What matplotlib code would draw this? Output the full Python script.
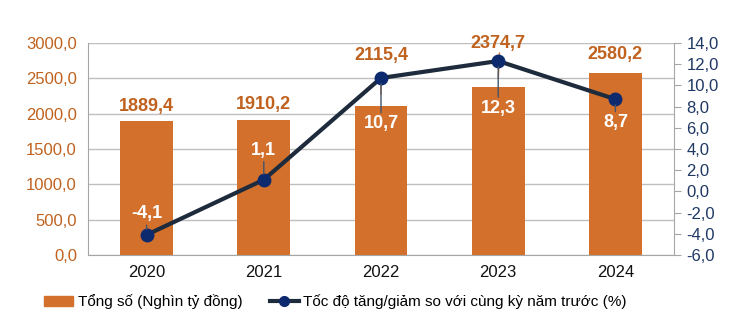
import numpy as np
import matplotlib.pyplot as plt
from matplotlib.lines import Line2D
from matplotlib.patches import Patch

years = ['2020', '2021', '2022', '2023', '2024']
tong_so = [1889.4, 1910.2, 2115.4, 2374.7, 2580.2]
toc_do = [-4.1, 1.1, 10.7, 12.3, 8.7]
tong_so_labels = ['1889,4', '1910,2', '2115,4', '2374,7', '2580,2']
toc_do_labels = ['-4,1', '1,1', '10,7', '12,3', '8,7']
left_ticks = [0, 500, 1000, 1500, 2000, 2500, 3000]
right_ticks = [-6, -4, -2, 0, 2, 4, 6, 8, 10, 12, 14]

plt.rcParams['font.family'] = ['Liberation Sans', 'DejaVu Sans']

bar_color = '#D2702C'
line_color = '#1E2B3C'
marker_color = '#0D2A6E'
left_txt = '#C0621E'
right_txt = '#1F3864'
grid_color = '#BFBFBF'

fig = plt.figure(figsize=(7.3, 3.21), dpi=100)
ax = fig.add_axes([88 / 730, 66 / 321, 586 / 730, 212 / 321])
x = np.arange(len(years))

ax.bar(x, tong_so, width=0.45, color=bar_color, zorder=2)
ax.set_xlim(-0.5, 4.5)
ax.set_ylim(0, 3000)
ax.set_yticks(left_ticks)
ax.set_yticklabels([f'{v},0' for v in left_ticks], color=left_txt, fontsize=12)
ax.set_xticks(x)
ax.set_xticklabels(years, fontsize=12, color='#111111')
ax.tick_params(axis='x', length=0, pad=7)
ax.tick_params(axis='y', length=0, pad=8)
ax.grid(axis='y', color=grid_color, lw=1, zorder=0)
for s in ['top', 'right']:
    ax.spines[s].set_visible(False)
for s in ['left', 'bottom']:
    ax.spines[s].set_color('#A6A6A6')

ax2 = ax.twinx()
ax2.set_ylim(-6, 14)
ax2.set_yticks(right_ticks)
ax2.set_yticklabels([f'{v},0' for v in right_ticks], color=right_txt, fontsize=12)
ax2.tick_params(axis='y', length=5, color='#A6A6A6', pad=4)
for s in ['top', 'left', 'bottom']:
    ax2.spines[s].set_visible(False)
ax2.spines['right'].set_color('#A6A6A6')
ax2.plot(x, toc_do, color=line_color, lw=3, marker='o', ms=9,
         markerfacecolor=marker_color, markeredgecolor=marker_color, zorder=3)

# bar value labels (offsets in points above bar top)
bar_off = [5, 5, 30, 25, 7]
for i, v in enumerate(tong_so):
    ax.annotate(tong_so_labels[i], (x[i], v), xytext=(0, bar_off[i]),
                textcoords='offset points', ha='center', va='bottom',
                color=left_txt, fontsize=13, fontweight='bold')
ax.annotate('', (x[2], 2115.4 + 120), xytext=(0, 18), textcoords='offset points',
            arrowprops=dict(arrowstyle='-', color=bar_color, lw=1))
ax.annotate('', (x[3], 2374.7 + 90), xytext=(1, 22), textcoords='offset points',
            arrowprops=dict(arrowstyle='-', color=bar_color, lw=1))

# line value labels with leader lines
line_off = [9, 15, -27, -28, -11]
for i, v in enumerate(toc_do):
    off = line_off[i]
    ax2.annotate(toc_do_labels[i], (x[i], v), xytext=(0, off),
                 textcoords='offset points', ha='center',
                 va='bottom' if off > 0 else 'top',
                 color='white', fontsize=13, fontweight='bold', zorder=4,
                 arrowprops=dict(arrowstyle='-', color='#44546A', lw=1,
                                 shrinkA=0, shrinkB=4))

handles = [Patch(color=bar_color),
           Line2D([], [], color=line_color, lw=3, marker='o', ms=7,
                  markerfacecolor=marker_color, markeredgecolor=marker_color)]
fig.legend(handles, ['Tổng số (Nghìn tỷ đồng)',
                     'Tốc độ tăng/giảm so với cùng kỳ năm trước (%)'],
           loc='center left', bbox_to_anchor=(38 / 730, 1 - 302 / 321), ncol=2,
           frameon=False, handlelength=1.9, handletextpad=0.3,
           columnspacing=1.8, borderaxespad=0,
           prop=dict(size=11))

fig.savefig('out.png', dpi=100)
